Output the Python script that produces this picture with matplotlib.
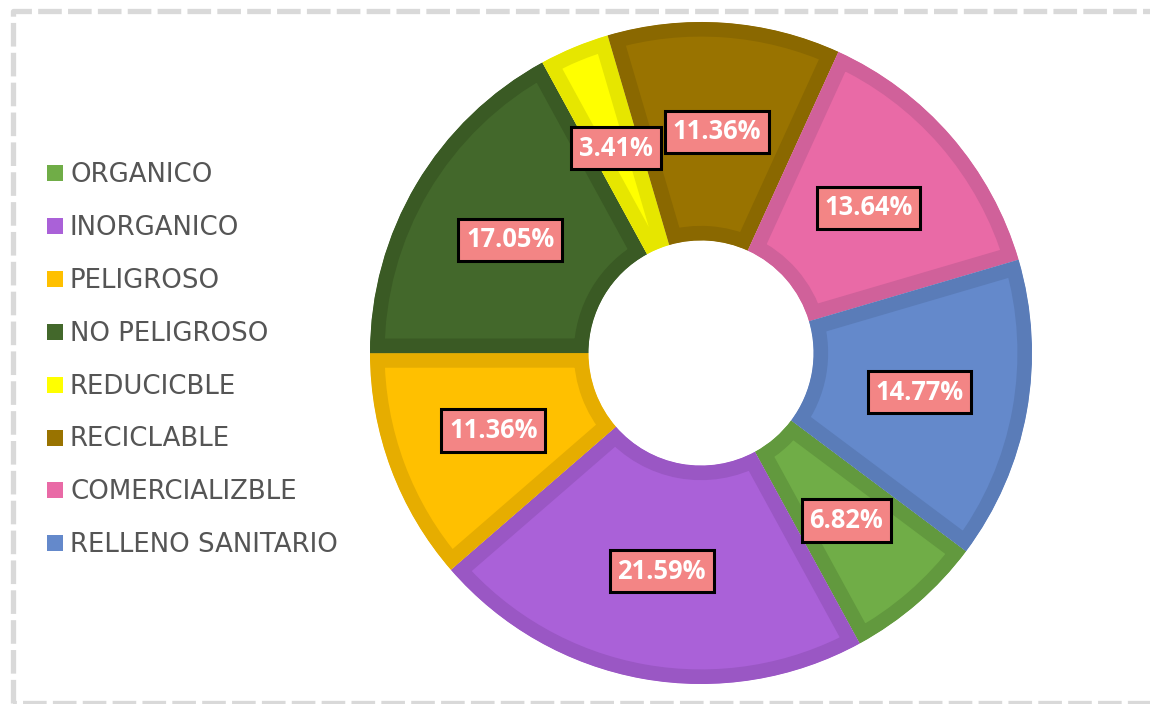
import matplotlib
matplotlib.use("Agg")
from matplotlib import pyplot as plt
from matplotlib.patches import Rectangle
from matplotlib.lines import Line2D

plt.rcParams["lines.scale_dashes"] = False

# Datos del grafico
categorias = ["ORGANICO", "INORGANICO", "PELIGROSO", "NO PELIGROSO",
              "REDUCICBLE", "RECICLABLE", "COMERCIALIZBLE", "RELLENO SANITARIO"]
porcentajes = [6.82, 21.59, 11.36, 17.05, 3.41, 11.36, 13.64, 14.77]

# Colores de relleno y de borde de cada sector
rellenos = ["#70AD47", "#AA61D8", "#FFC000", "#43682B",
            "#FFFF00", "#997300", "#E96AA6", "#6489CB"]
bordes = ["#62993E", "#9A57C4", "#E6AD00", "#3A5A24",
          "#E6E600", "#8A6800", "#D0619A", "#5A7CB8"]

W, H = 1150, 704
fig = plt.figure(figsize=(W / 100, H / 100), dpi=100)
fig.patch.set_facecolor("white")


def px(x, y):
    # pixeles (origen arriba-izquierda) -> coordenadas de figura
    return x / W, 1 - y / H


# Marco discontinuo del area del grafico
marco_x = [13, 13, 1200, 1200, 13]
marco_y = [703, 11, 11, 703, 703]
fx, fy = zip(*[px(x, y) for x, y in zip(marco_x, marco_y)])
fig.add_artist(Line2D(fx, fy, transform=fig.transFigure, color="#D9D9D9",
                      lw=3.8, dashes=(17, 4.5), solid_capstyle="butt",
                      dash_capstyle="butt"))

# Anillo
cx, cy, r = 701, 353, 331
lim = 1.03
ra = r * lim
ax = fig.add_axes([(cx - ra) / W, (H - cy - ra) / H, 2 * ra / W, 2 * ra / H])
cunas, _, textos = ax.pie(
    porcentajes, colors=rellenos, startangle=-36.8, counterclock=False,
    radius=1, autopct="%.2f%%", pctdistance=0.67,
    wedgeprops=dict(width=0.66),
    textprops=dict(color="white", fontsize=18.4, fontweight="bold",
                   family=["Open Sans", "DejaVu Sans"]),
)
# borde solo hacia dentro de cada sector (recortado por el propio sector)
for cuna, borde in zip(cunas, bordes):
    cuna.set_edgecolor(borde)
    cuna.set_linewidth(21)
    cuna.set_clip_on(True)
    cuna.set_clip_path(cuna)

for t in textos:
    t.set_bbox(dict(boxstyle="square,pad=0.3", fc="#F38585", ec="black", lw=2.2))
    t.set_zorder(5)

ax.set_xlim(-lim, lim)
ax.set_ylim(-lim, lim)
ax.set_aspect("equal")
ax.axis("off")

# Leyenda manual
y0, paso = 173, 52.9
for i, (nombre, color) in enumerate(zip(categorias, rellenos)):
    y = y0 + i * paso
    x1, y1 = px(47, y + 8)
    fig.add_artist(Rectangle((x1, y1), 16 / W, 16 / H, transform=fig.transFigure,
                             facecolor=color, edgecolor="none"))
    tx, ty = px(70, y + 9)
    fig.text(tx, ty, nombre, color="#555555", fontsize=18.7, va="baseline",
             ha="left", family=["DejaVu Sans"])

fig.savefig("out.png", dpi=100, facecolor="white")
plt.close(fig)
